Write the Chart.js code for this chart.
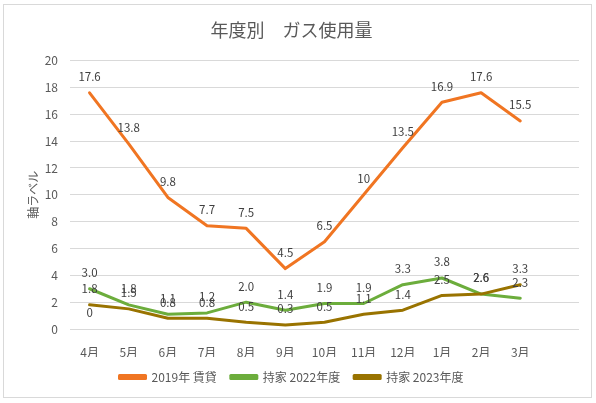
<!DOCTYPE html>
<html>
<head>
<meta charset="utf-8">
<script src="https://cdn.jsdelivr.net/npm/chart.js@4/dist/chart.umd.min.js"></script>
<style>
  html, body { margin: 0; padding: 0; background: #fff; }
  #frame { position: absolute; left: 3px; top: 4px; width: 587px; height: 392px; border: 1px solid #d9d9d9; }
  #chart { display: block; }
</style>
</head>
<body>
<div id="frame"><canvas id="chart" width="587" height="392"></canvas></div>
<script>
// 月 (13th slot is the empty category the original chart keeps at the end)
var months = ["4月", "5月", "6月", "7月", "8月", "9月", "10月", "11月", "12月", "1月", "2月", "3月", ""];

var rent2019 = [17.6, 13.8, 9.8, 7.7, 7.5, 4.5, 6.5, 10, 13.5, 16.9, 17.6, 15.5];
var own2022 = [3.0, 1.8, 1.1, 1.2, 2.0, 1.4, 1.9, 1.9, 3.3, 3.8, 2.6, 2.3];
var own2023 = [1.8, 1.5, 0.8, 0.8, 0.5, 0.3, 0.5, 1.1, 1.4, 2.5, 2.6, 3.3];
var stray = [0];  // lone "0" label under 4月

var yTicks = { min: 0, max: 20, step: 2 };

var font = "'Noto Sans CJK JP', 'Noto Sans', sans-serif";

// draw value labels above points, like Excel's "above" data labels
var valueLabels = {
  id: "valueLabels",
  afterDatasetsDraw: function (chart) {
    var ctx = chart.ctx;
    ctx.save();
    ctx.font = "11.5px " + font;
    ctx.fillStyle = "#404040";
    ctx.textAlign = "center";
    ctx.textBaseline = "middle";
    chart.data.datasets.forEach(function (ds, i) {
      var meta = chart.getDatasetMeta(i);
      meta.data.forEach(function (pt, j) {
        var v = ds.data[j];
        if (v == null) return;
        var txt = ds.decimals ? v.toFixed(ds.decimals) : String(v);
        ctx.fillText(txt, pt.x, pt.y - 16);
      });
    });
    ctx.restore();
  }
};

function series(label, data, color, order, decimals) {
  return {
    label: label,
    data: data,
    borderColor: color,
    backgroundColor: color,
    borderWidth: 3,
    pointRadius: 0,
    pointHoverRadius: 0,
    tension: 0,
    borderJoinStyle: "round",
    borderCapStyle: "round",
    order: order,
    decimals: decimals
  };
}

var datasets = [
  series("2019年 賃貸", rent2019, "#F07522", 3, 0),
  series("持家 2022年度", own2022, "#6CAD3C", 2, 1),
  series("持家 2023年度", own2023, "#997300", 1, 1),
  series("", stray, "rgba(0,0,0,0)", 4, 0)
];

new Chart(document.getElementById("chart").getContext("2d"), {
  type: "line",
  data: { labels: months, datasets: datasets },
  plugins: [valueLabels],
  options: {
    responsive: false,
    animation: false,
    layout: { padding: { left: 0, right: 12, top: 0, bottom: 4 } },
    plugins: {
      tooltip: { enabled: false },
      title: {
        display: true,
        text: "年度別　ガス使用量",
        color: "#595959",
        font: { family: font, size: 18, weight: "normal" },
        padding: { top: 14, bottom: 20 }
      },
      legend: {
        position: "bottom",
        labels: {
          color: "#595959",
          font: { family: font, size: 12 },
          boxWidth: 26,
          boxHeight: 3,
          padding: 14,
          filter: function (item) { return item.text !== ""; },
          sort: function (a, b) { return a.datasetIndex - b.datasetIndex; }
        }
      }
    },
    scales: {
      x: {
        offset: true,
        grid: { display: false },
        border: { display: false },
        ticks: { color: "#595959", font: { family: font, size: 12 }, padding: 8, maxRotation: 0, autoSkip: false },
        afterFit: function (scale) { scale.height = 28; }
      },
      y: {
        min: yTicks.min,
        max: yTicks.max,
        grid: { color: "#d9d9d9", drawTicks: false },
        border: { display: false },
        ticks: { stepSize: yTicks.step, color: "#595959", font: { family: font, size: 12 }, padding: 12 },
        title: {
          display: true,
          text: "軸ラベル",
          color: "#595959",
          font: { family: font, size: 12 },
          padding: { top: 22, bottom: 0 }
        },
        afterFit: function (scale) { scale.width = 66; }
      }
    }
  }
});
</script>
</body>
</html>
